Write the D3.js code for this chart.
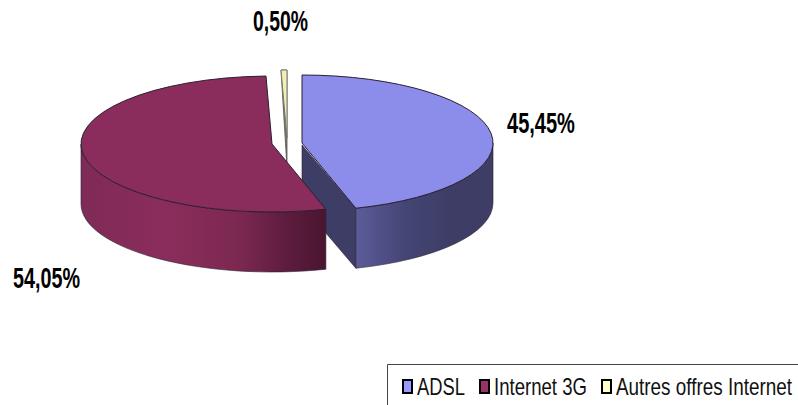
<!DOCTYPE html>
<html>
<head>
<meta charset="utf-8">
<script src="https://cdn.jsdelivr.net/npm/d3@7"></script>
<style>
  html, body { margin: 0; padding: 0; background: #fff; overflow: hidden; }
  text { font-family: "Liberation Sans", sans-serif; }
</style>
</head>
<body>
<svg id="chart" width="798" height="405"></svg>
<script>
const categories = ["ADSL", "Internet 3G", "Autres offres Internet"];
const values = [45.45, 54.05, 0.50];
const labels = ["45,45%", "54,05%", "0,50%"];
const topColors = ["#8c8ceb", "#8b2d5c", "#f2efb4"];
const swatchColors = ["#9999ff", "#993366", "#ffffcc"];

const rx = 191, ry = 68, depth = 60;
// exploded centres of each slice
const centres = [[302, 143], [272, 144], [287, 138]];

const svg = d3.select("#chart");
const defs = svg.append("defs");

const pie = d3.pie().sort(null).value(d => d);
const slices = pie(values);

function pt(c, a) {
  return [c[0] + rx * Math.sin(a), c[1] - ry * Math.cos(a)];
}

function sideGradient(id, stops) {
  const g = defs.append("linearGradient").attr("id", id);
  stops.forEach(s => g.append("stop").attr("offset", s[0]).attr("stop-color", s[1]));
}
sideGradient("sideBlue", [[0, "#5c5c9a"], [0.35, "#454575"], [0.7, "#3d3d66"], [1, "#3d3d66"]]);
sideGradient("sideRed", [[0, "#7f2a57"], [0.35, "#8b2d5c"], [0.65, "#7b2850"], [0.85, "#5c1c3d"], [1, "#4a1530"]]);

const edge = "#2a2030";

// blue cut face, sits behind everything
function cutFace(c, a) {
  const p = pt(c, a);
  return `M${c[0]},${c[1] + 2}L${p}L${p[0]},${p[1] + depth}L${c[0]},${c[1] + 2 + depth}Z`;
}

svg.append("path")
  .attr("d", cutFace(centres[0], slices[0].endAngle))
  .attr("fill", "#3d3d66").attr("stroke", edge).attr("stroke-width", 0.6);

// outer walls: only the part of the rim facing the viewer
function wall(c, a0, a1) {
  const lo = Math.max(a0, Math.PI / 2), hi = Math.min(a1, Math.PI * 1.5);
  const p0 = pt(c, lo), p1 = pt(c, hi);
  return `M${p0}A${rx},${ry} 0 0 1 ${p1}L${p1[0]},${p1[1] + depth}A${rx},${ry} 0 0 0 ${p0[0]},${p0[1] + depth}Z`;
}

svg.append("path")
  .attr("d", wall(centres[0], slices[0].startAngle, slices[0].endAngle))
  .attr("fill", "url(#sideBlue)").attr("stroke", edge).attr("stroke-width", 0.6);

// thin slice: olive cut face seen behind the red one
const cream = slices[2];
const creamA = pt(centres[2], cream.startAngle), creamB = pt(centres[2], cream.endAngle);
svg.append("path")
  .attr("d", `M${creamA}L${creamB}L${centres[2][0]},${centres[2][1] + depth / 2}Z`)
  .attr("fill", "#77775a").attr("stroke", "#555").attr("stroke-width", 0.8);

svg.append("path")
  .attr("d", wall(centres[1], slices[1].startAngle, slices[1].endAngle))
  .attr("fill", "url(#sideRed)").attr("stroke", edge).attr("stroke-width", 0.6);

// top faces: d3.arc squashed into an ellipse
const arc = d3.arc().innerRadius(0).outerRadius(rx);
[2, 1, 0].forEach(i => {
  const c = centres[i];
  svg.append("path")
    .attr("d", arc(slices[i]))
    .attr("transform", `translate(${c[0]},${c[1]}) scale(1,${ry / rx})`)
    .attr("fill", topColors[i])
    .attr("stroke", i === 2 ? "#777" : edge).attr("stroke-width", 1).attr("vector-effect", "non-scaling-stroke");
});

// squeeze a text to the narrow look of the original
function narrowText(t, x, y, w, size, weight, fill) {
  const el = svg.append("text")
    .attr("font-size", size).attr("font-weight", weight).attr("fill", fill)
    .text(t);
  const k = w / el.node().getComputedTextLength();
  el.attr("transform", `translate(${x},${y}) scale(${k},1)`);
}

// data labels
const labelPos = [[507, 133, 68], [13, 288, 67], [253, 31, 55]];
labels.forEach((t, i) => narrowText(t, labelPos[i][0], labelPos[i][1], labelPos[i][2], 29, "bold", "#000"));

// legend
svg.append("path").attr("d", "M387.5,405V364.5H798").attr("fill", "none").attr("stroke", "#444").attr("stroke-width", 1);
const legendSwatchX = [403, 480, 602];
const legendTextX = [417, 494, 616];
const legendTextW = [48, 93, 176];
categories.forEach((c, i) => {
  svg.append("rect")
    .attr("x", legendSwatchX[i]).attr("y", 380).attr("width", 9).attr("height", 13)
    .attr("fill", swatchColors[i]).attr("stroke", "#000").attr("stroke-width", 2);
  narrowText(c, legendTextX[i], 395, legendTextW[i], 23, "normal", "#111");
});
</script>
</body>
</html>
